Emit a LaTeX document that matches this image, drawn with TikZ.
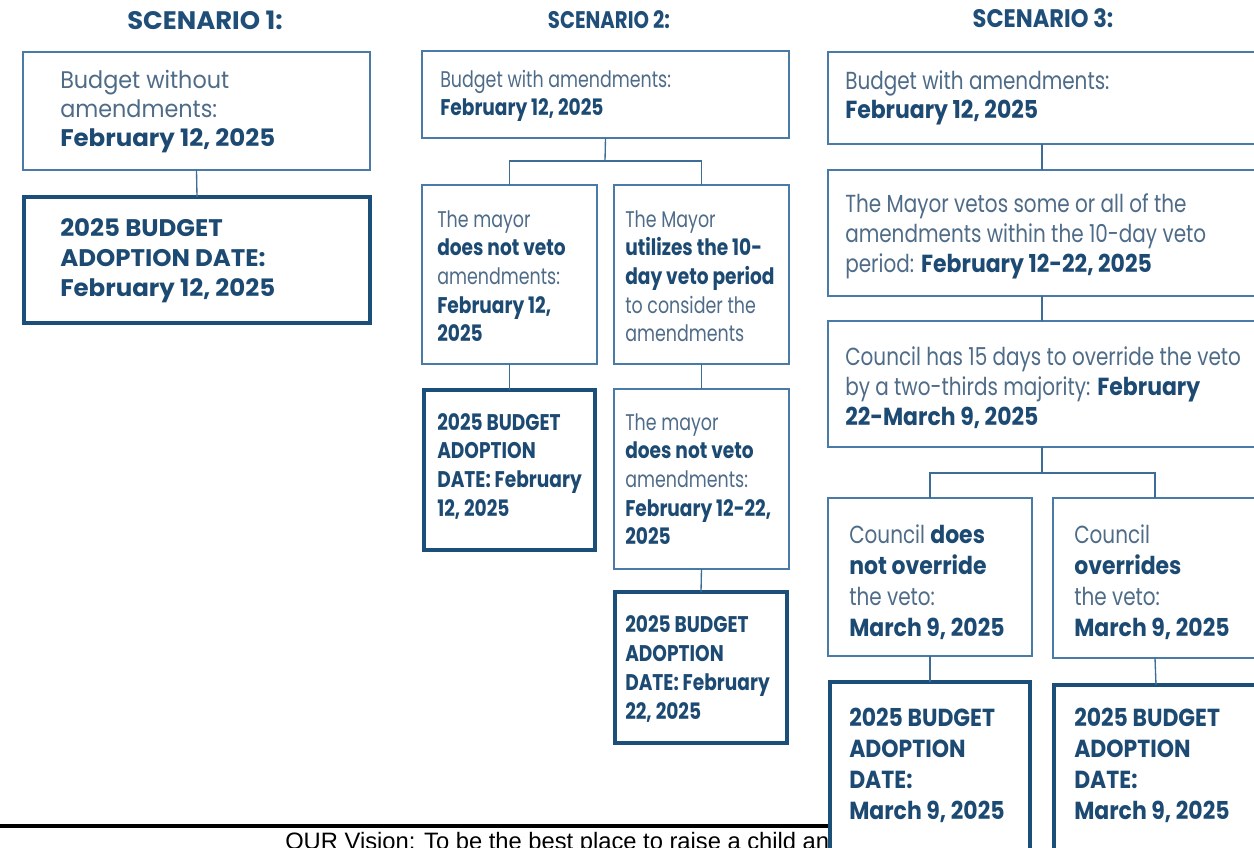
\documentclass[tikz,border=0pt]{standalone}
\usepackage{fontspec}
\setmainfont{Poppins}
\newfontfamily\fA[FakeStretch=0.93, BoldFeatures={FakeStretch=1.02}]{Poppins}
\newfontfamily\fB[FakeStretch=0.77, BoldFeatures={FakeStretch=0.82}]{Poppins}
\newfontfamily\fC[FakeStretch=0.81, BoldFeatures={FakeStretch=0.89}]{Poppins}
\newfontfamily\ffoot{Liberation Sans}
\definecolor{thinc}{HTML}{4A7BA6}
\definecolor{thickc}{HTML}{1B4F7A}
\definecolor{linkc}{HTML}{3D6D96}
\definecolor{headc}{HTML}{1F4E79}
\definecolor{regc}{HTML}{4E6B88}
\definecolor{boldc}{HTML}{1C4A72}
\newcommand{\bd}[1]{{\bfseries\color{boldc}#1}}
\newcommand{\mkbox}[6]{\node[#2, minimum width={(#5-#3)*0.75pt}, minimum height={(#6-#4)*0.75pt}] (#1) at ({(#3+#5)/2},{(#4+#6)/2}) {};}
\newcommand{\mktext}[5]{\node[txt, font=#2] (#1) at (#3,#4) {\parbox[t]{330pt}{\leavevmode#5}};}
\tikzset{
  thinbox/.style={draw=thinc, line width=1pt, fill=white, inner sep=0pt, outer sep=0pt},
  thickbox/.style={draw=thickc, line width=2.8pt, fill=white, inner sep=0pt, outer sep=0pt},
  link/.style={draw=linkc, line width=1pt},
  txt/.style={anchor=base west, inner sep=0pt, text=regc},
  head/.style={anchor=base, inner sep=0pt, text=headc}
}
\begin{document}
\begin{tikzpicture}[x=0.75pt,y=-0.75pt]
\useasboundingbox (0,0) rectangle (1254,847);
\clip (0,0) rectangle (1254,847);
% footer
\coordinate (fl) at (0,826);
\coordinate (fr) at (828,826);
\draw[black, line width=2.4pt] (fl) -- (fr);
\node[anchor=base west, inner sep=0pt, font=\ffoot\fontsize{17.8}{20}\selectfont] (foot) at (285,849) {OUR Vision: To be the best place to raise a child and};
% headings
\node[head, font=\fA\fontsize{19}{22}\selectfont\bfseries] (h1) at (205,29) {SCENARIO 1:};
\node[head, font=\fB\fontsize{18}{22}\selectfont\bfseries] (h2) at (609,28) {SCENARIO 2:};
\node[head, font=\fC\fontsize{19}{22}\selectfont\bfseries] (h3) at (1043,27) {SCENARIO 3:};
% scenario 1 boxes
\mkbox{A1}{thinbox}{23}{52}{370}{170}
\mkbox{B1}{thickbox}{24}{197}{370}{323}
% scenario 2 boxes
\mkbox{A2}{thinbox}{422}{51}{789}{138}
\mkbox{B2a}{thinbox}{422}{185}{597}{364}
\mkbox{B2b}{thinbox}{614}{185}{789}{364}
\mkbox{C2a}{thickbox}{424}{390}{595}{550}
\mkbox{C2b}{thinbox}{614}{389}{789}{569}
\mkbox{D2}{thickbox}{615}{592}{787}{743}
% scenario 3 boxes
\mkbox{A3}{thinbox}{828}{52}{1256}{144}
\mkbox{B3}{thinbox}{828}{170}{1256}{296}
\mkbox{C3}{thinbox}{828}{321}{1256}{447}
\mkbox{D3a}{thinbox}{828}{498}{1032}{656}
\mkbox{D3b}{thinbox}{1053}{498}{1257}{658}
\mkbox{E3a}{thickbox}{830}{682}{1030}{920}
\mkbox{E3b}{thickbox}{1054}{685}{1258}{920}
% connectors
\coordinate (j2) at (605,161);
\coordinate (j3) at (1042,473);
\draw[link] (A1.south) -- (B1.north);
\draw[link] (A2.south) -- (j2);
\draw[link] (B2a.north) |- (j2) -| (B2b.north);
\draw[link] (B2a.south) -- (C2a.north);
\draw[link] (B2b.south) -- (C2b.north);
\draw[link] (C2b.south) -- (D2.north);
\draw[link] (A3.south) -- (B3.north);
\draw[link] (B3.south) -- (C3.north);
\draw[link] (C3.south) -- (j3);
\draw[link] (D3a.north) |- (j3) -| (D3b.north);
\draw[link] (D3a.south) -- (E3a.north);
\draw[link] (D3b.south) -- (E3b.north);
% texts scenario 1
\mktext{A1t}{\fA\fontsize{18}{21.75}\selectfont}{60}{88}{Budget without\\amendments:\\\bd{February 12, 2025}}
\mktext{B1t}{\fA\fontsize{18}{22.5}\selectfont}{60}{236}{\bd{2025 BUDGET}\\\bd{ADOPTION DATE:}\\\bd{February 12, 2025}}
% texts scenario 2
\mktext{A2t}{\fB\fontsize{17}{21}\selectfont}{440}{87}{Budget with amendments:\\\bd{February 12, 2025}}
\mktext{B2at}{\fB\fontsize{17}{21.5}\selectfont}{437}{227}{The mayor\\\bd{does not veto}\\amendments:\\\bd{February 12,}\\\bd{2025}}
\mktext{B2bt}{\fB\fontsize{17}{21.5}\selectfont}{625}{227}{The Mayor\\\bd{utilizes the 10-}\\\bd{day veto period}\\to consider the\\amendments}
\mktext{C2at}{\fB\fontsize{17}{21.5}\selectfont}{437}{430}{\bd{2025 BUDGET}\\\bd{ADOPTION}\\\bd{DATE: February}\\\bd{12, 2025}}
\mktext{C2bt}{\fB\fontsize{17}{21.5}\selectfont}{625}{430}{The mayor\\\bd{does not veto}\\amendments:\\\bd{February 12-22,}\\\bd{2025}}
\mktext{D2t}{\fB\fontsize{17}{21.75}\selectfont}{625}{632}{\bd{2025 BUDGET}\\\bd{ADOPTION}\\\bd{DATE: February}\\\bd{22, 2025}}
% texts scenario 3
\mktext{A3t}{\fC\fontsize{18.5}{22}\selectfont}{845}{89}{Budget with amendments:\\\bd{February 12, 2025}}
\mktext{B3t}{\fC\fontsize{18.5}{22.5}\selectfont}{845}{212}{The Mayor vetos some or all of the\\amendments within the 10-day veto\\period: \bd{February 12-22, 2025}}
\mktext{C3t}{\fC\fontsize{18.5}{22.5}\selectfont}{845}{365}{Council has 15 days to override the veto\\by a two-thirds majority: \bd{February}\\\bd{22-March 9, 2025}}
\mktext{D3at}{\fC\fontsize{18.5}{23.25}\selectfont}{849}{543}{Council \bd{does}\\\bd{not override}\\the veto:\\\bd{March 9, 2025}}
\mktext{D3bt}{\fC\fontsize{18.5}{23.25}\selectfont}{1074}{543}{Council\\\bd{overrides}\\the veto:\\\bd{March 9, 2025}}
\mktext{E3at}{\fC\fontsize{18.5}{23.25}\selectfont}{849}{726}{\bd{2025 BUDGET}\\\bd{ADOPTION}\\\bd{DATE:}\\\bd{March 9, 2025}}
\mktext{E3bt}{\fC\fontsize{18.5}{23.25}\selectfont}{1074}{726}{\bd{2025 BUDGET}\\\bd{ADOPTION}\\\bd{DATE:}\\\bd{March 9, 2025}}
\end{tikzpicture}
\end{document}
